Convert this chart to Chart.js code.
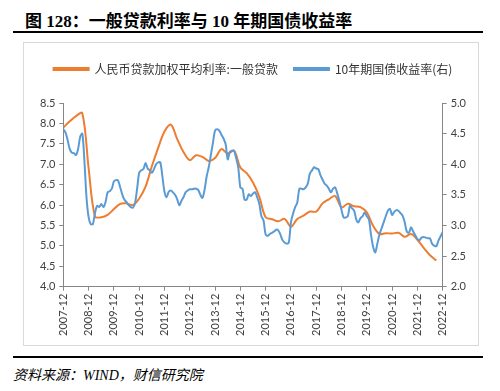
<!DOCTYPE html>
<html>
<head>
<meta charset="utf-8">
<script src="https://cdn.jsdelivr.net/npm/chart.js@4.4.1/dist/chart.umd.min.js"></script>
<style>
  body { margin: 0; width: 500px; height: 391px; background: #fff; position: relative; overflow: hidden; }
  .title { position: absolute; left: 25px; top: 7px; font: bold 17px "Liberation Serif", "Noto Sans CJK SC", serif; color: #000; white-space: nowrap; }
  .rule { position: absolute; left: 13px; width: 470px; height: 2px; background: #000; }
  .box { position: absolute; left: 23px; top: 42px; width: 454px; height: 302px; border: 1px solid #d9d9d9; }
  .box canvas { position: absolute; left: 0; top: 0; }
  .source { position: absolute; left: 13px; top: 364px; font: italic 14px "Liberation Serif", "Noto Sans CJK SC", serif; color: #000; white-space: nowrap; }
</style>
</head>
<body>
<div class="title">图 128：一般贷款利率与 10 年期国债收益率</div>
<div class="rule" style="top:31px"></div>
<div class="box"><canvas id="chart" width="454" height="302"></canvas></div>
<div class="rule" style="top:356px"></div>
<div class="source">资料来源：WIND，财信研究院</div>
<script>
// month labels run monthly from 2007-12 to 2022-12
const startYear = 2007, startMonth = 12;
const yearTicks = ["2007-12", "2008-12", "2009-12", "2010-12", "2011-12", "2012-12", "2013-12", "2014-12",
  "2015-12", "2016-12", "2017-12", "2018-12", "2019-12", "2020-12", "2021-12", "2022-12"];

// 人民币贷款加权平均利率:一般贷款 (quarterly, 2007-12 .. 2022-09)
const loanRate = [
  7.90, 8.05, 8.18, 8.25, 6.90, 5.72, 5.70, 5.76, 5.90, 6.03,
  6.04, 6.00, 6.16, 6.45, 6.95, 7.40, 7.80, 7.97, 7.62, 7.30,
  7.10, 7.22, 7.18, 7.08, 7.15, 7.37, 7.26, 7.33, 6.92, 6.78,
  6.55, 6.20, 5.70, 5.65, 5.60, 5.66, 5.47, 5.66, 5.74, 5.84,
  5.84, 6.04, 6.14, 6.22, 5.94, 6.03, 5.97, 5.95, 5.82, 5.49,
  5.29, 5.31, 5.30, 5.32, 5.22, 5.29, 5.15, 4.95, 4.77, 4.64
];

// 10年期国债收益率 (monthly, 2007-12 .. 2022-12)
const bondYield = [
  4.57, 4.52, 4.40, 4.25, 4.19, 4.18, 4.15, 4.25, 4.45, 4.50, 4.05, 3.45,
  3.13, 3.02, 3.02, 3.20, 3.32, 3.30, 3.35, 3.30, 3.38, 3.54, 3.56, 3.60,
  3.72, 3.74, 3.73, 3.62, 3.50, 3.42, 3.38, 3.33, 3.30, 3.29, 3.36, 3.60,
  3.86, 3.90, 3.92, 4.02, 3.93, 3.90, 3.86, 3.92, 4.00, 4.03, 4.03, 3.80,
  3.55, 3.46, 3.55, 3.57, 3.54, 3.50, 3.43, 3.33, 3.40, 3.46, 3.54, 3.57,
  3.59, 3.59, 3.60, 3.60, 3.58, 3.50, 3.45, 3.58, 3.80, 3.95, 4.15, 4.35,
  4.55, 4.57, 4.55, 4.48, 4.42, 4.33, 4.08, 4.20, 4.22, 4.22, 4.10, 3.95,
  3.62, 3.60, 3.42, 3.42, 3.51, 3.48, 3.52, 3.54, 3.46, 3.35, 3.15, 3.08,
  2.85, 2.83, 2.86, 2.88, 2.90, 2.93, 2.92, 2.85, 2.76, 2.72, 2.70, 2.72,
  3.05, 3.19, 3.30, 3.37, 3.60, 3.60, 3.59, 3.62, 3.68, 3.85, 3.90, 3.95,
  3.93, 3.92, 3.82, 3.75, 3.68, 3.65, 3.60, 3.54, 3.60, 3.62, 3.52, 3.40,
  3.25, 3.13, 3.13, 3.15, 3.32, 3.28, 3.24, 3.10, 3.05, 3.12, 3.15, 3.21,
  3.15, 3.10, 2.85, 2.65, 2.56, 2.70, 2.85, 2.95, 3.05, 3.15, 3.24, 3.27,
  3.17, 3.22, 3.25, 3.24, 3.20, 3.16, 3.05, 2.90, 2.88, 2.97, 2.90, 2.84,
  2.78, 2.76, 2.80, 2.81, 2.80, 2.79, 2.79, 2.70, 2.67, 2.66, 2.75, 2.82,
  2.89
];

function monthLabel(i) {
  const t = startYear * 12 + (startMonth - 1) + i;
  const y = Math.floor(t / 12), m = t % 12 + 1;
  return y + "-" + (m < 10 ? "0" + m : m);
}

const loanPoints = loanRate.map((v, i) => ({ x: i * 3, y: v }));
const bondPoints = bondYield.map((v, i) => ({ x: i, y: v }));

const axisColor = "#868686";
const tickFont = { family: "Lato, 'Liberation Sans', sans-serif", size: 11 };

// extra room under the legend
const legendGap = {
  id: "legendGap",
  beforeInit(chart) {
    const fit = chart.legend.fit;
    chart.legend.fit = function () {
      fit.call(this);
      this.height += 18;
    };
  }
};

new Chart(document.getElementById("chart"), {
  type: "line",
  data: {
    datasets: [
      {
        label: "人民币贷款加权平均利率:一般贷款",
        data: loanPoints,
        yAxisID: "y",
        borderColor: "#ED7D31",
        backgroundColor: "#ED7D31",
        borderWidth: 2,
        pointRadius: 0,
        tension: 0.35,
        order: 1
      },
      {
        label: "10年期国债收益率(右)",
        data: bondPoints,
        yAxisID: "y1",
        borderColor: "#5B9BD5",
        backgroundColor: "#5B9BD5",
        borderWidth: 2,
        pointRadius: 0,
        tension: 0.3,
        order: 0
      }
    ]
  },
  options: {
    responsive: false,
    animation: false,
    devicePixelRatio: 1,
    layout: { padding: { left: 12, right: 8, top: 4, bottom: 6 } },
    plugins: {
      tooltip: { enabled: false },
      legend: {
        position: "top",
        labels: {
          boxWidth: 35,
          boxHeight: 2,
          padding: 16,
          color: "#333",
          font: { family: "'Noto Sans CJK SC', sans-serif", size: 12 },
          sort: (a, b) => a.datasetIndex - b.datasetIndex
        }
      }
    },
    scales: {
      x: {
        type: "linear",
        min: 0,
        max: 180,
        border: { color: axisColor },
        grid: { drawOnChartArea: false, tickLength: 4, color: axisColor },
        ticks: {
          stepSize: 12,
          autoSkip: false,
          maxRotation: 90,
          minRotation: 90,
          padding: 3,
          color: "#404040",
          font: tickFont,
          callback: (v) => yearTicks.indexOf(monthLabel(v)) >= 0 ? monthLabel(v) : ""
        }
      },
      y: {
        position: "left",
        min: 4,
        max: 8.5,
        border: { color: axisColor },
        grid: { drawOnChartArea: false, tickLength: 4, color: axisColor },
        ticks: { stepSize: 0.5, padding: 4, color: "#404040", font: tickFont, callback: (v) => v.toFixed(1) }
      },
      y1: {
        position: "right",
        min: 2,
        max: 5,
        border: { color: axisColor },
        grid: { drawOnChartArea: false, tickLength: 4, color: axisColor },
        ticks: { stepSize: 0.5, padding: 4, color: "#404040", font: tickFont, callback: (v) => v.toFixed(1) }
      }
    }
  },
  plugins: [legendGap]
});
</script>
</body>
</html>
